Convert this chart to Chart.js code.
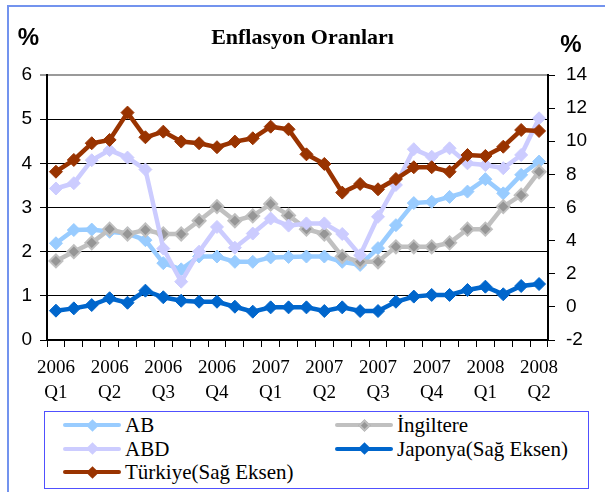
<!DOCTYPE html>
<html>
<head>
<meta charset="utf-8">
<script src="https://cdn.jsdelivr.net/npm/chart.js@4"></script>
<style>
  body { margin: 0; background: #fff; }
  #wrap { position: relative; width: 605px; height: 492px; overflow: hidden; }
  #frame { position: absolute; left: 7px; top: 5px; width: 700px; height: 600px;
           border-left: 2px solid #7393ee; border-top: 2px solid #7393ee; }
  #box { position: absolute; left: 0; top: 0; width: 605px; height: 410px; }
  #legend { position: absolute; left: 44px; top: 411px; width: 543px; height: 76px;
            border: 1.5px solid #5050ff; font: 21px "Liberation Serif", serif; color: #000; }
  .item { position: absolute; height: 24px; line-height: 24px; white-space: nowrap; }
  .sym { position: absolute; left: 0; top: 5px; width: 58px; height: 14px; }
  .ln { position: absolute; left: 0; right: 0; top: 5px; height: 4px; border-radius: 2px; }
  .dm { position: absolute; left: 24.5px; top: 2.5px; width: 9px; height: 9px; transform: rotate(45deg); box-sizing: border-box; }
  .txt { position: absolute; left: 62px; top: 0; }
</style>
</head>
<body>
<div id="wrap">
  <div id="frame"></div>
  <div id="box"><canvas id="chart"></canvas></div>
  <div id="legend"></div>
</div>
<script>
// 28 monthly observations, labelled once per quarter
const tickLabels = [['2006', 'Q1'], ['2006', 'Q2'], ['2006', 'Q3'], ['2006', 'Q4'], ['2007', 'Q1'],
                    ['2007', 'Q2'], ['2007', 'Q3'], ['2007', 'Q4'], ['2008', 'Q1'], ['2008', 'Q2']];
const pointCount = 28;

const ab = [2.19, 2.49, 2.5, 2.45, 2.41, 2.26, 1.74, 1.6, 1.89, 1.89, 1.77, 1.77, 1.87, 1.88,
            1.89, 1.89, 1.77, 1.7, 2.08, 2.6, 3.1, 3.13, 3.24, 3.36, 3.64, 3.32, 3.74, 4.04];
const ingiltere = [1.79, 2.0, 2.2, 2.51, 2.4, 2.49, 2.4, 2.4, 2.7, 3.02, 2.7, 2.81, 3.08, 2.82,
                   2.51, 2.4, 1.89, 1.77, 1.77, 2.11, 2.11, 2.11, 2.2, 2.51, 2.51, 3.02, 3.28, 3.81];
const abd = [3.43, 3.55, 4.07, 4.3, 4.13, 3.86, 2.07, 1.32, 2.0, 2.56, 2.09, 2.41, 2.75, 2.59,
             2.64, 2.64, 2.4, 1.92, 2.79, 3.51, 4.32, 4.15, 4.34, 4.0, 3.96, 3.89, 4.19, 5.02];
const japonya = [-0.23, -0.09, 0.11, 0.52, 0.25, 0.98, 0.58, 0.37, 0.31, 0.31, 0.01, -0.29, -0.03, -0.03,
                 -0.03, -0.25, -0.03, -0.25, -0.25, 0.31, 0.62, 0.72, 0.72, 1.02, 1.22, 0.76, 1.26, 1.38];
const turkiye = [8.16, 8.87, 9.88, 10.08, 11.73, 10.24, 10.58, 9.98, 9.88, 9.64, 9.98, 10.18, 10.88, 10.72,
                 9.21, 8.63, 6.9, 7.42, 7.1, 7.72, 8.43, 8.43, 8.16, 9.17, 9.11, 9.67, 10.68, 10.62];

const labels = Array.from({ length: pointCount }, (_, i) => i % 3 === 0 ? tickLabels[i / 3] : '');

function series(label, data, color, axis, order, markerFill, markerBorder) {
  return {
    label, data, yAxisID: axis, order,
    borderColor: color, borderWidth: 4.5,
    pointStyle: 'rectRot', pointRadius: 6.5, pointHoverRadius: 6.5,
    pointBackgroundColor: markerFill || color,
    pointBorderColor: markerBorder || color, pointBorderWidth: markerFill ? 2 : 1,
    tension: 0
  };
}

const datasets = [
  series('AB', ab, '#99ccff', 'y', 5),
  series('İngiltere', ingiltere, '#c0c0c0', 'y', 4, '#969696', '#c0c0c0'),
  series('ABD', abd, '#ccccff', 'y', 3),
  series('Japonya(Sağ Eksen)', japonya, '#0066cc', 'y2', 2),
  series('Türkiye(Sağ Eksen)', turkiye, '#993300', 'y2', 1)
];

const percentSigns = {
  id: 'percentSigns',
  afterDraw(chart) {
    const ctx = chart.ctx;
    ctx.save();
    ctx.fillStyle = '#000';
    ctx.font = 'bold 24px "Liberation Sans", Arial';
    ctx.textAlign = 'center';
    ctx.textBaseline = 'middle';
    ctx.fillText('%', 28.5, 38);
    ctx.fillText('%', 571, 45);
    ctx.restore();
  }
};

const tickFont = { family: '"Liberation Sans", Arial', size: 19 };

new Chart(document.getElementById('chart'), {
  type: 'line',
  data: { labels, datasets },
  options: {
    responsive: true, maintainAspectRatio: false, animation: false,
    layout: { padding: 0 },
    plugins: {
      legend: { display: false },
      tooltip: { enabled: false },
      title: {
        display: true, text: 'Enflasyon Oranları', color: '#000',
        font: { family: '"Liberation Serif", serif', size: 22, weight: 'bold', lineHeight: 1.2 },
        padding: { top: 25, bottom: 23.6 }
      }
    },
    scales: {
      x: {
        offset: true,
        grid: { offset: true, drawOnChartArea: false, color: '#000', tickLength: 7 },
        border: { color: '#000', width: 2 },
        ticks: {
          autoSkip: false, maxRotation: 0, color: '#000', padding: 9,
          font: { family: '"Liberation Serif", serif', size: 19, lineHeight: 1.3 }
        },
        afterFit: s => { s.height = 70; }
      },
      y: {
        position: 'left', min: 0, max: 6,
        ticks: { stepSize: 1, color: '#000', font: tickFont, padding: 8 },
        grid: {
          color: c => c.tick && c.tick.value === 6 ? '#9a9a9a' : '#000',
          lineWidth: c => c.tick && c.tick.value === 6 ? 2 : 1,
          tickLength: 7
        },
        border: { color: '#000', width: 2 },
        afterFit: s => { s.width = 47; }
      },
      y2: {
        position: 'right', min: -2, max: 14,
        ticks: { stepSize: 2, color: '#000', font: tickFont, padding: 11 },
        grid: { drawOnChartArea: false, color: '#000', tickLength: 7 },
        border: { color: '#000', width: 2 },
        afterFit: s => { s.width = 57; }
      }
    }
  },
  plugins: [percentSigns]
});

// legend in two columns, built from the datasets
const legend = document.getElementById('legend');
const byRow = [datasets[0], datasets[1], datasets[2], datasets[3], datasets[4]];
byRow.forEach((d, i) => {
  const col = i % 2, row = Math.floor(i / 2);
  const item = document.createElement('div');
  item.className = 'item';
  item.style.left = (col ? 290 : 18) + 'px';
  item.style.top = (row * 23.5 + 1) + 'px';
  const fill = d.pointBackgroundColor, edge = d.pointBorderColor;
  item.innerHTML =
    '<span class="sym"><span class="ln" style="background:' + d.borderColor + '"></span>' +
    '<span class="dm" style="background:' + fill + ';border:' + (fill !== edge ? '2px solid ' + edge : '0') + '"></span></span>' +
    '<span class="txt">' + d.label + '</span>';
  legend.appendChild(item);
});
</script>
</body>
</html>
